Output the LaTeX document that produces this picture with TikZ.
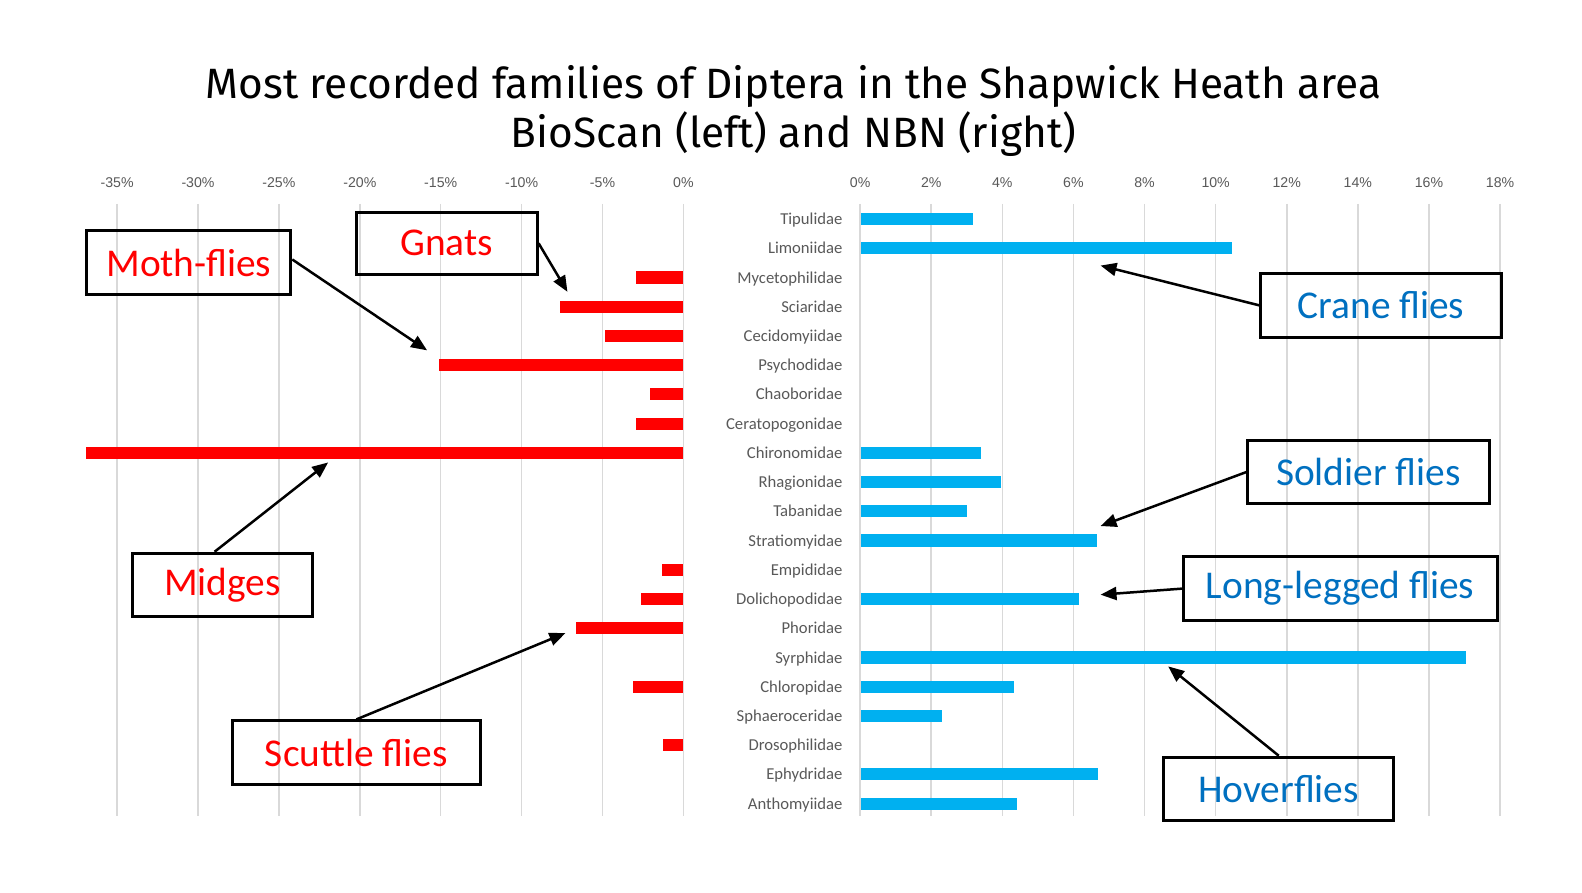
\documentclass[tikz,border=0pt]{standalone}
\usepackage{fontspec}
\setmainfont{Carlito}
\newfontfamily\axf{Liberation Sans}
\newfontfamily\ttl{Fira Sans}
\usetikzlibrary{arrows.meta}
\definecolor{rbar}{HTML}{FF0000}
\definecolor{bbar}{HTML}{00B0F0}
\definecolor{btxt}{HTML}{0070C0}
\definecolor{grd}{HTML}{D9D9D9}
\definecolor{lab}{HTML}{595959}
\begin{document}
\begin{tikzpicture}[x=1pt,y=-1pt,
  grid/.style={grd,line width=1.5pt},
  tick/.style={lab,font=\axf\fontsize{14}{16}\selectfont},
  fam/.style={lab,anchor=base east,font=\fontsize{16.5}{18}\selectfont},
  box/.style={draw=black,line width=3pt,inner sep=0pt,font=\fontsize{39}{44}\selectfont},
  arr/.style={-{Triangle[length=16pt,width=13pt]},line width=2.5pt}]
\useasboundingbox (0,0) rectangle (1582,892);
\fill[white] (0,0) rectangle (1582,892);
\begin{scope}[scale=1.0095,transform shape]
\node[font=\ttl\fontsize{42}{48}\selectfont,align=center] (title) at (786,110) {Most recorded families of Diptera in the Shapwick Heath area\\BioScan (left) and NBN (right)};
% left grid
\foreach \i/\t in {0/0\%,1/-5\%,2/-10\%,3/-15\%,4/-20\%,5/-25\%,6/-30\%,7/-35\%}{
  \draw[grid] ({677-80.14*\i},202) -- ({677-80.14*\i},808);
  \node[tick] (lt\i) at ({677-80.14*\i},181) {\t};}
\foreach \i in {0,...,9}{
  \draw[grid] ({852+70.44*\i},202) -- ({852+70.44*\i},808);
  \pgfmathtruncatemacro\v{2*\i}
  \node[tick] (rt\i) at ({852+70.44*\i},181) {\v\%};}
% families
\foreach \n [count=\k from 0] in {Tipulidae,Limoniidae,Mycetophilidae,Sciaridae,Cecidomyiidae,Psychodidae,Chaoboridae,Ceratopogonidae,Chironomidae,Rhagionidae,Tabanidae,Stratiomyidae,Empididae,Dolichopodidae,Phoridae,Syrphidae,Chloropidae,Sphaeroceridae,Drosophilidae,Ephydridae,Anthomyiidae}{
  \node[fam] (f\k) at (838,{217+28.95*\k+5.5}) {\n};}
% left bars
\foreach \k/\e in {2/630,3/555,4/599,5/435,6/644,7/630,8/85,12/656,13/635,14/571,16/627,18/657}{
  \fill[rbar] (\e,{217+28.95*\k-6}) rectangle (677,{217+28.95*\k+6});}
% right bars
\foreach \k/\e in {0/964,1/1220,8/972,9/992,10/958,11/1087,13/1069,15/1452,16/1004,17/933,19/1088,20/1007}{
  \fill[bbar] (853,{217+28.95*\k-6}) rectangle (\e,{217+28.95*\k+6});}
% boxes
\node[box,text=rbar,minimum width=202pt,minimum height=64pt] (moth) at (187,260) {Moth-flies};
\node[box,text=rbar,minimum width=179pt,minimum height=62pt] (gnats) at (442.5,241) {Gnats};
\node[box,text=rbar,minimum width=179pt,minimum height=63pt] (midges) at (220.5,579.5) {Midges};
\node[box,text=rbar,minimum width=246pt,minimum height=63pt] (scuttle) at (353,745.5) {Scuttle flies};
\node[box,text=btxt,minimum width=238pt,minimum height=63pt] (crane) at (1368,302.5) {Crane flies};
\node[box,text=btxt,minimum width=239pt,minimum height=63pt] (soldier) at (1355.5,467.5) {Soldier flies};
\node[box,text=btxt,minimum width=311pt,minimum height=64pt] (long) at (1327.5,583) {Long-legged flies};
\node[box,text=btxt,minimum width=227pt,minimum height=63pt] (hover) at (1266.5,781.5) {Hoverflies};
% arrow targets
\coordinate (tm) at (423,347);
\coordinate (tg) at (562,289);
\coordinate (tmi) at (325,458);
\coordinate (ts) at (560,627);
\coordinate (tc) at (1090,263);
\coordinate (tso) at (1090,521);
\coordinate (tl) at (1090,589);
\coordinate (th) at (1157,660);
\draw[arr] (moth.east) ++(0,-3) -- (tm);
\draw[arr] (gnats.east) -- (tg);
\draw[arr] (midges.north) ++(-8,0) -- (tmi);
\draw[arr] (scuttle.north) -- (ts);
\draw[arr] (crane.west) -- (tc);
\draw[arr] (soldier.west) -- (tso);
\draw[arr] (long.west) -- (tl);
\draw[arr] (hover.north) -- (th);
\end{scope}
\end{tikzpicture}
\end{document}
